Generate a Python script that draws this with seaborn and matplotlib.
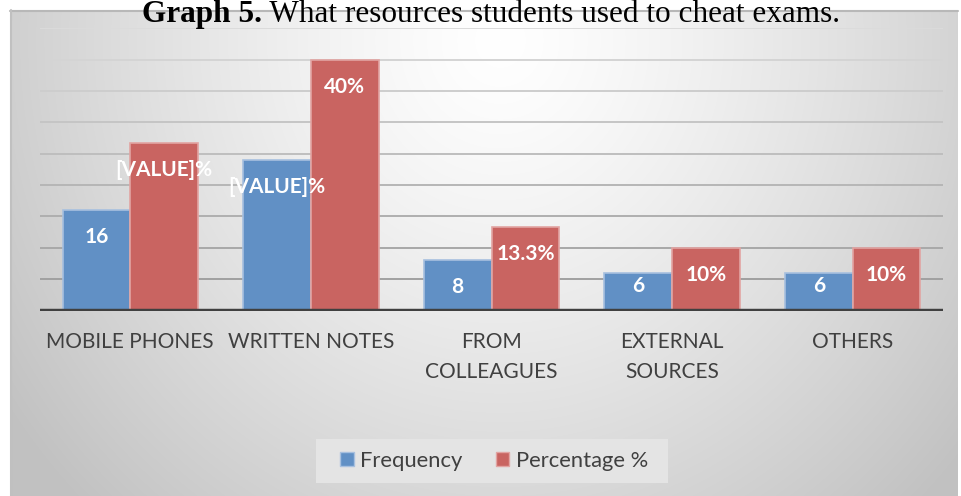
import numpy as np
import pandas as pd
import matplotlib
matplotlib.use("Agg")
import matplotlib.pyplot as plt
from matplotlib.patches import Rectangle, Patch
import seaborn as sns

# ---------------- data ----------------
categories = ["MOBILE PHONES", "WRITTEN NOTES", "FROM\nCOLLEAGUES", "EXTERNAL\nSOURCES", "OTHERS"]
frequency = [16, 24, 8, 6, 6]
percentage = [26.7, 40, 13.3, 10, 10]
freq_labels = ["16", "[VALUE]%", "8", "6", "6"]
pct_labels = ["[VALUE]%", "40%", "13.3%", "10%", "10%"]
series_names = ["Frequency", "Percentage %"]
title_bold = "Graph 5."
title_rest = " What resources students used to cheat exams."

df = pd.DataFrame({
    "Category": categories * 2,
    "Value": frequency + percentage,
    "Series": [series_names[0]] * len(categories) + [series_names[1]] * len(categories),
})

# ---------------- style ----------------
W, H = 961, 496
sns.set_theme(style="white")
plt.rcParams["font.family"] = ["Lato", "DejaVu Sans"]

BLUE = "#6190C5"
RED = "#C96461"
BLUE_EDGE = "#A7C0DF"
RED_EDGE = "#E2A4A2"
TXT = "#404040"

fig = plt.figure(figsize=(W / 100, H / 100), dpi=100)
fig.patch.set_facecolor("white")

def fx(px):
    return px / W

def fy(py):
    return 1 - py / H

# background panel with radial gradient
bx0, bx1, by0, by1 = 10, 958, 10, 496
bg = fig.add_axes([fx(bx0), fy(by1), fx(bx1 - bx0), (by1 - by0) / H], zorder=0)
xs = np.arange(bx0, bx1)
ys = np.arange(by0, by1)
XX, YY = np.meshgrid(xs, ys)
d = np.sqrt(((XX - 500) / 520.0) ** 2 + ((YY - 40) / 560.0) ** 2)
g = np.clip(1 - 0.2 * d ** 1.3, 0.76, 1.0)
img = np.dstack([g, g, g])
bg.imshow(img, extent=[bx0, bx1, by1, by0], aspect="auto", interpolation="bilinear")
bg.set_xlim(bx0, bx1)
bg.set_ylim(by1, by0)
bg.axis("off")
fig.add_artist(plt.Line2D([fx(bx0), fx(bx1)], [fy(by0 + 0.5)] * 2, color="#b8b8b8", lw=1.5))
fig.add_artist(plt.Line2D([fx(bx0 + 0.5)] * 2, [fy(by0), fy(by1)], color="#c0c0c0", lw=1.5))

# main axes
base_y, top_y = 310.5, 28.3
ax = fig.add_axes([fx(40), fy(base_y), fx(943 - 40), (base_y - top_y) / H], zorder=2)
ax.patch.set_alpha(0)

sns.barplot(data=df, x="Category", y="Value", hue="Series", palette=[BLUE, RED],
            width=0.75, ax=ax, linewidth=1.2, saturation=1, legend=False, zorder=3)
for cont, ec in zip(ax.containers, [BLUE_EDGE, RED_EDGE]):
    for p in cont:
        p.set_edgecolor(ec)
        p.set_alpha(1)

ax.set_ylim(0, 45)
ax.set_xlim(-0.5, len(categories) - 0.5)
ax.set_yticks([])
for v in range(5, 50, 5):
    gval = 0.60 + 0.26 * (v / 45.0)
    ax.axhline(v, color=(gval, gval, gval), lw=1.4, zorder=1)
ax.axhline(0, color="#404040", lw=3.2, zorder=4)
for s in ax.spines.values():
    s.set_visible(False)
ax.set_xlabel("")
ax.set_ylabel("")
ax.tick_params(axis="x", length=0, pad=15.5, labelsize=15, labelcolor=TXT)
ax.set_xticks(range(len(categories)))
ax.set_xticklabels(categories, linespacing=1.65, va="top")

# data labels
def add_labels(container, labels, values):
    for p, lab, v in zip(container, labels, values):
        off = 27 if v >= 7 else 13
        ax.annotate(lab, (p.get_x() + p.get_width() / 2, p.get_height()),
                    xytext=(0, -off), textcoords="offset pixels",
                    ha="center", va="center", color="white",
                    fontsize=15, fontweight="bold", zorder=6)

add_labels(ax.containers[0], freq_labels, frequency)
add_labels(ax.containers[1], pct_labels, percentage)

# legend
fig.add_artist(Rectangle((fx(316), fy(483)), fx(668 - 316), (483 - 439) / H,
                         transform=fig.transFigure, facecolor="#e4e4e4",
                         edgecolor="none", zorder=1))
handles = [Patch(facecolor=BLUE, edgecolor=BLUE_EDGE, lw=1),
           Patch(facecolor=RED, edgecolor=RED_EDGE, lw=1)]
leg = fig.legend(handles, series_names, loc="center",
                 bbox_to_anchor=(fx(494), fy(461)), ncol=2, frameon=False,
                 fontsize=15.8, handlelength=0.62, handleheight=0.62,
                 handletextpad=0.3, columnspacing=1.5, labelcolor=TXT)
leg.set_zorder(5)

# title at the top edge (kept fully visible)
ttl_y = fy(22)
t1 = fig.text(0, ttl_y, title_bold, fontfamily="Liberation Serif", fontweight="bold",
              fontsize=22.5, va="baseline", ha="left", color="black", zorder=10)
t2 = fig.text(0, ttl_y, title_rest, fontfamily="Liberation Serif",
              fontsize=22.5, va="baseline", ha="left", color="black", zorder=10)
r = fig.canvas.get_renderer()
w1 = t1.get_window_extent(r).width
w2 = t2.get_window_extent(r).width
start = 491 - (w1 + w2) / 2
t1.set_x(fx(start))
t2.set_x(fx(start + w1))

fig.savefig("out.png", dpi=100)
